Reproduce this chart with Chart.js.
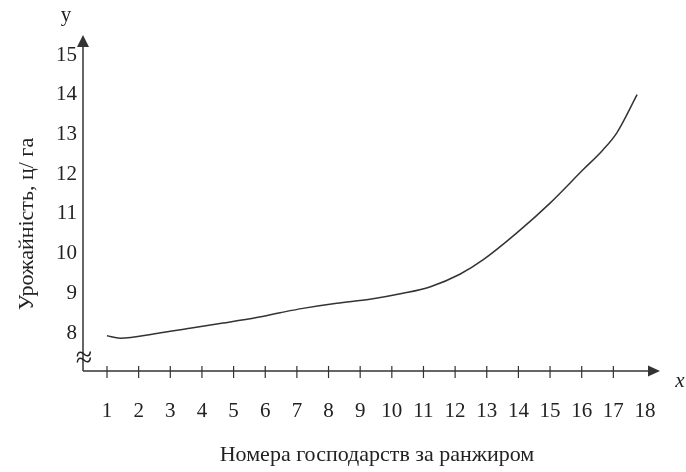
<!DOCTYPE html>
<html>
<head>
<meta charset="utf-8">
<script src="https://cdn.jsdelivr.net/npm/chart.js@4.4.1/dist/chart.umd.min.js"></script>
<style>
  html, body { margin: 0; padding: 0; background: #fff; }
  #wrap { width: 686px; height: 472px; }
</style>
</head>
<body>
<div id="wrap"><canvas id="chart"></canvas></div>
<script>
// дані
const X_TICKS = [1, 2, 3, 4, 5, 6, 7, 8, 9, 10, 11, 12, 13, 14, 15, 16, 17, 18];
const X_MARKS = [1, 2, 3, 4, 5, 6, 7, 8, 9, 10, 11, 12, 13, 14, 15, 16, 17];
const Y_TICKS = [8, 9, 10, 11, 12, 13, 14, 15];
const CURVE_X = [1.0, 1.41, 2.57, 3.62, 4.67, 5.73, 6.47, 7.19, 8.26, 9.31, 10.35, 11.2, 12.15, 12.88, 13.95, 15.0, 16.04, 16.67, 17.11, 17.75];
const CURVE_Y = [7.93, 7.87, 7.99, 8.12, 8.25, 8.39, 8.51, 8.62, 8.75, 8.85, 9.0, 9.16, 9.48, 9.84, 10.52, 11.27, 12.11, 12.61, 13.04, 14.0];

const X_TITLE = 'Номера господарств за ранжиром';
const Y_TITLE = 'Урожайність, ц/ га';

const FONT = '"Liberation Serif", "Times New Roman", serif';
const INK = '#222';
const AXIS = '#333';

// осі зі стрілками, риски на осі x, знак розриву, підписи
const axesPlugin = {
  id: 'axesArrows',
  afterDraw(chart) {
    const { ctx, chartArea } = chart;
    const xs = chart.scales.x;
    const left = chartArea.left, bottom = chartArea.bottom;
    const top = chartArea.top, right = chartArea.right;
    ctx.save();
    ctx.strokeStyle = AXIS;
    ctx.fillStyle = AXIS;
    ctx.lineWidth = 1.5;

    // вісь y
    ctx.beginPath();
    ctx.moveTo(left, bottom);
    ctx.lineTo(left, top + 10);
    ctx.stroke();
    ctx.beginPath();
    ctx.moveTo(left, top);
    ctx.lineTo(left - 6, top + 12);
    ctx.lineTo(left + 6, top + 12);
    ctx.closePath();
    ctx.fill();

    // вісь x
    ctx.beginPath();
    ctx.moveTo(left, bottom);
    ctx.lineTo(right - 10, bottom);
    ctx.stroke();
    ctx.beginPath();
    ctx.moveTo(right, bottom);
    ctx.lineTo(right - 12, bottom - 5.5);
    ctx.lineTo(right - 12, bottom + 5.5);
    ctx.closePath();
    ctx.fill();

    // риски
    ctx.lineWidth = 1.2;
    X_MARKS.forEach(v => {
      const px = xs.getPixelForValue(v);
      ctx.beginPath();
      ctx.moveTo(px, bottom - 5);
      ctx.lineTo(px, bottom + 7);
      ctx.stroke();
    });

    // знак розриву
    ctx.fillStyle = INK;
    ctx.font = '30px ' + FONT;
    ctx.textAlign = 'center';
    ctx.textBaseline = 'middle';
    ctx.fillText('≈', left + 1, bottom - 12);

    // назви осей
    ctx.font = '22px ' + FONT;
    ctx.fillText(X_TITLE, 377, 455);
    ctx.font = '21px ' + FONT;
    ctx.fillText('y', 66, 15);
    ctx.font = 'italic 21px ' + FONT;
    ctx.fillText('x', 680, 381);

    ctx.translate(27, 224);
    ctx.rotate(-Math.PI / 2);
    ctx.font = '22px ' + FONT;
    ctx.fillText(Y_TITLE, 0, 0);
    ctx.restore();
  }
};

new Chart(document.getElementById('chart'), {
  type: 'scatter',
  data: {
    datasets: [{
      data: CURVE_X.map((x, i) => ({ x: x, y: CURVE_Y[i] })),
      showLine: true,
      borderColor: AXIS,
      borderWidth: 1.5,
      pointRadius: 0,
      cubicInterpolationMode: 'monotone',
      fill: false
    }]
  },
  options: {
    responsive: true,
    maintainAspectRatio: false,
    animation: false,
    events: [],
    layout: { padding: { top: 35, right: 26, left: 0, bottom: 0 } },
    plugins: {
      legend: { display: false },
      tooltip: { enabled: false }
    },
    scales: {
      x: {
        type: 'linear',
        min: 0.2416,
        max: 18.474,
        grid: { display: false, drawTicks: false },
        border: { display: false },
        afterBuildTicks: s => { s.ticks = X_TICKS.map(v => ({ value: v })); },
        afterFit: s => { s.height = 101; },
        ticks: {
          autoSkip: false,
          maxRotation: 0,
          padding: 28,
          color: INK,
          font: { family: FONT, size: 21 }
        }
      },
      y: {
        type: 'linear',
        min: 7.043,
        max: 15.504,
        grid: { display: false, drawTicks: false },
        border: { display: false },
        afterBuildTicks: s => { s.ticks = Y_TICKS.map(v => ({ value: v })); },
        afterFit: s => { s.width = 83; },
        ticks: {
          padding: 6,
          color: INK,
          font: { family: FONT, size: 21 }
        }
      }
    }
  },
  plugins: [axesPlugin]
});
</script>
</body>
</html>
